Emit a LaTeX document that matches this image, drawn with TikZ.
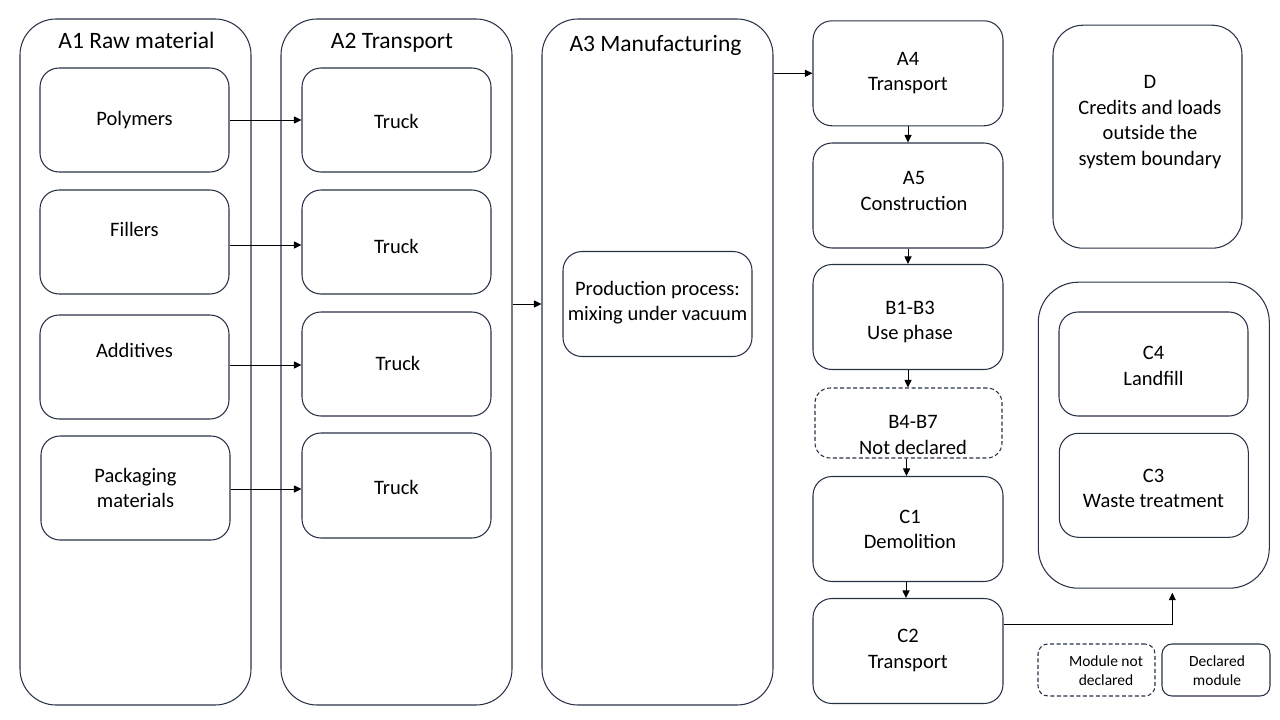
\documentclass[tikz,border=0pt]{standalone}
\usepackage{fontspec}
\setmainfont{Carlito}
\usetikzlibrary{arrows.meta}
\definecolor{edge}{RGB}{40,50,70}
\newcommand{\titlefont}{\fontsize{23.5}{28}\selectfont}
\newcommand{\bodyfont}{\fontsize{20.5}{25.5}\selectfont}
\newcommand{\legfont}{\fontsize{15.5}{19}\selectfont}
\begin{document}
\begin{tikzpicture}[x=1pt,y=-1pt,
  box/.style={draw=edge,line width=1.05pt,rounded corners=#1,inner sep=0pt,fill=white},
  box/.default=19pt,
  col/.style={box=36pt,minimum width=231pt,minimum height=686pt},
  sub/.style={box,minimum width=189pt,minimum height=104pt},
  title/.style={font=\titlefont,inner sep=0pt,anchor=base},
  txt/.style={font=\bodyfont,align=center,inner sep=0pt},
  leg/.style={font=\legfont,align=center,inner sep=0pt},
  arr/.style={draw=black,line width=0.9pt,-{Triangle[length=7.5pt,width=7pt]}}]
\useasboundingbox (0,0) rectangle (1280,720);

% columns
\node[col] (a1) at (135.5,362) {};
\node[col] (a2) at (396.5,362) {};
\node[col] (a3) at (657.5,362) {};
\node[title] (a1t) at (136.5,48) {A1 Raw material};
\node[title] (a2t) at (392,48) {A2 Transport};
\node[title] (a3t) at (655.5,51.5) {A3 Manufacturing};

% A1 contents
\node[sub] (poly) at (134.5,120) {};
\node[sub] (fill) at (134.5,242) {};
\node[sub] (addi) at (134.5,367) {};
\node[sub] (pack) at (135.5,488) {};
\node[txt] (polyt) at (134.5,120) {Polymers};
\node[txt] (fillt) at (134.5,229.5) {Fillers};
\node[txt] (addit) at (134.5,350.5) {Additives};
\node[txt] (packt) at (135.5,488) {Packaging\\materials};

% A2 contents
\node[sub] (tr1) at (396.5,120) {};
\node[sub] (tr2) at (396.5,242) {};
\node[sub] (tr3) at (396.5,364) {};
\node[sub,minimum height=105pt] (tr4) at (396.5,485.5) {};
\node[txt] (tr1t) at (396.5,121) {Truck};
\node[txt] (tr2t) at (396.5,246) {Truck};
\node[txt] (tr3t) at (398,363) {Truck};
\node[txt] (tr4t) at (396.5,487) {Truck};

% A3 contents
\node[sub,minimum height=105pt] (prod) at (657.5,304) {};
\node[txt] (prodt) at (657.5,302.5) {Production process:\\mixing under vacuum};

% right chain
\node[sub,minimum width=190pt,minimum height=105pt] (a4) at (908,73.3) {};
\node[sub,minimum width=190pt,minimum height=105pt] (a5) at (908,195.5) {};
\node[sub,minimum width=190pt,minimum height=105pt] (b13) at (908,317) {};
\node[box=15pt,dashed,dash pattern=on 4pt off 2.5pt,minimum width=187pt,minimum height=70pt] (b47) at (908.5,423) {};
\node[sub,minimum width=190pt,minimum height=105pt] (c1) at (908,529) {};
\node[sub,minimum width=190pt,minimum height=105pt] (c2) at (908,651) {};
\node[txt] (a4t) at (908,73) {A4\\Transport};
\node[txt] (a5t) at (914,191) {A5\\Construction};
\node[txt] (b13t) at (910,322) {B1-B3\\Use phase};
\node[txt] (b47t) at (913,435) {B4-B7\\Not declared};
\node[txt] (c1t) at (910,529.5) {C1\\Demolition};
\node[txt] (c2t) at (908,650.5) {C2\\Transport};

% D
\node[box=30pt,minimum width=189pt,minimum height=223pt] (d) at (1147.5,136.7) {};
\node[txt] (dt) at (1150,122) {D\\Credits and loads\\outside the\\system boundary};

% C group
\node[box=40pt,minimum width=231pt,minimum height=306pt] (cg) at (1153.8,435.2) {};
\node[sub] (c4) at (1153.5,364) {};
\node[sub] (c3) at (1153.8,485.3) {};
\node[txt] (c4t) at (1153.5,366) {C4\\Landfill};
\node[txt] (c3t) at (1153.5,488.5) {C3\\Waste treatment};

% legend
\node[box=10pt,dashed,dash pattern=on 4pt off 2.5pt,minimum width=117pt,minimum height=52pt] (ln) at (1096.5,670) {};
\node[box=10pt,minimum width=108pt,minimum height=52pt] (ld) at (1216,670) {};
\node[leg] (lnt) at (1106,670.5) {Module not\\declared};
\node[leg] (ldt) at (1217,671) {Declared\\module};

% connectors
\draw[arr] (poly.east) -- (tr1.west);
\draw[arr] ([yshift=-3pt]fill.east) -- ([yshift=-3pt]fill.east -| tr2.west);
\draw[arr] ([yshift=2pt]addi.east) -- ([yshift=2pt]addi.east -| tr3.west);
\draw[arr] ([yshift=-1pt]pack.east) -- ([yshift=-1pt]pack.east -| tr4.west);
\draw[arr] (a2.east |- prod) -- (a3.west |- prod);
\draw[arr] (a3.east |- a4) -- (a4.west);
\draw[arr] (a4.south) -- (a5.north);
\draw[arr] (a5.south) -- (b13.north);
\draw[arr] (b13.south) -- (b47.north -| b13.south);
\draw[arr] ([xshift=-2pt]b47.south) -- ([xshift=-2pt]b47.south |- c1.north);
\draw[arr] ([xshift=-2pt]c1.south) -- ([xshift=-2pt]c2.north);
\draw[arr,shorten >=4pt] ([yshift=26.5pt]c2.east) -| ([xshift=18.5pt]cg.south);
\end{tikzpicture}
\end{document}
